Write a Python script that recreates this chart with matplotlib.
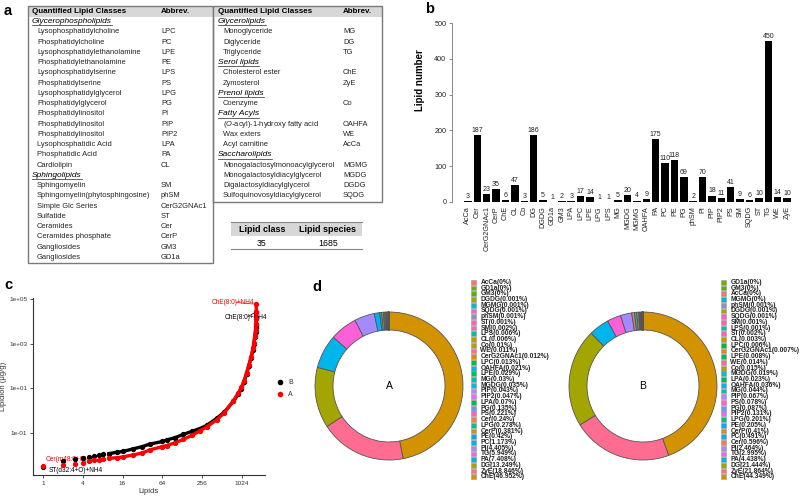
import matplotlib
matplotlib.use("Agg")
import matplotlib.pyplot as plt
from matplotlib.patches import Rectangle

plt.rcParams.update({
    "font.family": "Liberation Sans",
    "mathtext.fontset": "custom",
    "mathtext.rm": "Liberation Sans",
    "mathtext.it": "Liberation Sans:italic",
})

W, H = 803, 501

# ---------------- data ----------------
left_rows = [
    ("Glycerophospholipids", None),
    ("Lysophosphatidylcholine", "LPC"), ("Phosphatidylcholine", "PC"),
    ("Lysophosphatidylethanolamine", "LPE"), ("Phosphatidylethanolamine", "PE"),
    ("Lysophosphatidylserine", "LPS"), ("Phosphatidylserine", "PS"),
    ("Lysophosphatidylglycerol", "LPG"), ("Phosphatidylglycerol", "PG"),
    ("Phosphatidylinositol", "PI"), ("Phosphatidylinositol", "PIP"),
    ("Phosphatidylinositol", "PIP2"), ("Lysophosphatidic Acid", "LPA"),
    ("Phosphatidic Acid", "PA"), ("Cardiolipin", "CL"),
    ("Sphingolipids", None),
    ("Sphingomyelin", "SM"), ("Sphingomyelin(phytosphingosine)", "phSM"),
    ("Simple Glc Series", "CerG2GNAc1"), ("Sulfatide", "ST"),
    ("Ceramides", "Cer"), ("Ceramides phosphate", "CerP"),
    ("Gangliosides", "GM3"), ("Gangliosides", "GD1a"),
]
right_rows = [
    ("Glycerolipids", None),
    ("Monoglyceride", "MG"), ("Diglyceride", "DG"), ("Triglyceride", "TG"),
    ("Serol lipids", None),
    ("Cholesterol ester", "ChE"), ("Zymosterol", "ZyE"),
    ("Prenol lipids", None),
    ("Coenzyme", "Co"),
    ("Fatty Acyls", None),
    (r"($\it{O}$-acyl)-1-hydroxy fatty acid", "OAHFA"),
    ("Wax exters", "WE"), ("Acyl carnitine", "AcCa"),
    ("Saccharolipids", None),
    ("Monogalactosylmonoacylglycerol", "MGMG"),
    ("Monogalactosyldiacylglycerol", "MGDG"),
    ("Digalactosyldiacylglycerol", "DGDG"),
    ("Sulfoquinovosyldiacylglycerol", "SQDG"),
]
n_classes, n_species = 35, 1685

bar_names = ["AcCa", "Cer", "CerG2GNAc1", "CerP", "ChE", "CL", "Co", "DG", "DGDG",
             "GD1a", "GM3", "LPA", "LPC", "LPE", "LPG", "LPS", "MG", "MGDG", "MGMG",
             "OAHFA", "PA", "PC", "PE", "PG", "phSM", "PI", "PIP", "PIP2", "PS", "SM",
             "SQDG", "ST", "TG", "WE", "ZyE"]
bar_counts = [3, 187, 23, 35, 6, 47, 3, 186, 5, 1, 2, 3, 17, 14, 1, 1, 5, 20, 4, 9,
              175, 110, 118, 69, 2, 70, 18, 11, 41, 9, 6, 10, 450, 14, 10]

# rank-ordered lipid abundance (ug/g), read at selected ranks
rank_b = [1, 2, 3, 4, 5, 6, 7, 8, 10, 13, 16, 23, 32, 41, 64, 74, 100, 132, 180, 237,
          300, 424, 550, 757, 900, 1000, 1100, 1200, 1300, 1400, 1500, 1550, 1600,
          1640, 1670, 1680, 1683, 1684, 1685]
conc_b = [3.0e-3, 5.6e-3, 6.9e-3, 7.8e-3, 8.5e-3, 9.0e-3, 0.0105, 0.011, 0.012, 0.0138,
          0.015, 0.0195, 0.025, 0.032, 0.042, 0.049, 0.063, 0.087, 0.12, 0.16,
          0.22, 0.46, 0.85, 2.6, 5.5, 9.5, 20, 43, 100, 224, 525, 1000, 2000,
          3500, 5000, 6500, 8000, 1.6e4, 2.7e4]
rank_a = [1, 2, 3, 4, 5, 6, 7, 8, 10, 13, 16, 23, 32, 41, 64, 74, 100, 132, 180, 237,
          300, 424, 550, 757, 900, 1000, 1100, 1200, 1300, 1400, 1500, 1550, 1600,
          1640, 1670, 1680, 1684, 1685]
conc_a = [3.3e-3, 3.7e-3, 4.2e-3, 4.7e-3, 5.6e-3, 6.0e-3, 6.5e-3, 6.9e-3, 7.4e-3, 7.9e-3,
          8.5e-3, 0.0105, 0.013, 0.0174, 0.025, 0.0275, 0.037, 0.052, 0.08, 0.126,
          0.19, 0.39, 0.8, 2.75, 6.3, 11, 22, 50, 112, 250, 630, 1100, 2200,
          4000, 8000, 1.26e4, 2.5e4, 5.8e4]

pie_a_names = ["AcCa", "GD1a", "GM3", "DGDG", "MGMG", "SQDG", "phSM", "ST", "SM", "LPS",
               "CL", "Co", "WE", "CerG2GNAc1", "LPC", "OAHFA", "LPE", "MG", "MGDG", "PIP",
               "PIP2", "LPA", "PG", "PS", "Cer", "LPG", "CerP", "PE", "PC", "PI", "TG",
               "PA", "DG", "ZyE", "ChE"]
pie_a_pct = [0, 0, 0, 0.001, 0.001, 0.001, 0.001, 0.001, 0.002, 0.006, 0.006, 0.01,
             0.011, 0.012, 0.013, 0.021, 0.029, 0.03, 0.035, 0.043, 0.047, 0.07, 0.135,
             0.221, 0.24, 0.278, 0.381, 0.42, 1.173, 4.405, 5.949, 7.408, 13.249,
             18.846, 46.952]
pie_b_names = ["GD1a", "GM3", "AcCa", "MGMG", "phSM", "DGDG", "SQDG", "SM", "LPS", "ST",
               "CL", "LPC", "CerG2GNAc1", "LPE", "WE", "Co", "MGDG", "LPA", "OAHFA", "MG",
               "PIP", "PS", "PG", "PIP2", "LPG", "PE", "CerP", "PC", "Cer", "PI", "TG",
               "PA", "DG", "ZyE", "ChE"]
pie_b_pct = [0, 0, 0, 0, 0.001, 0.001, 0.001, 0.001, 0.001, 0.002, 0.003, 0.006, 0.007,
             0.008, 0.014, 0.015, 0.019, 0.023, 0.036, 0.044, 0.067, 0.078, 0.087,
             0.131, 0.201, 0.205, 0.41, 0.491, 0.596, 2.464, 2.995, 4.438, 21.444,
             21.864, 44.349]

class_colors = {
    "AcCa": "#F8766D", "GD1a": "#6BB100", "GM3": "#53B400", "DGDG": "#A3A500",
    "MGMG": "#00BFC4", "SQDG": "#FF61C3", "phSM": "#8E92B8", "ST": "#FF62BC",
    "SM": "#FF66A8", "LPS": "#00C1A3", "CL": "#C49A00", "Co": "#B79F00",
    "WE": "#FF6A98", "CerG2GNAc1": "#E58700", "LPC": "#00BA38", "OAHFA": "#00B4F0",
    "LPE": "#00BC56", "MG": "#00BFB0", "MGDG": "#00BCD8", "PIP": "#B385FF",
    "PIP2": "#E76BF3", "LPA": "#00B94A", "PG": "#619CFF", "PS": "#FF61C9",
    "Cer": "#F17D50", "LPG": "#00C08B", "CerP": "#DB8E00", "PE": "#00A9FF",
    "PC": "#00B0F6", "PI": "#A58AFF", "TG": "#FB61D7", "PA": "#00B5EC",
    "DG": "#A3A500", "ZyE": "#FF6C91", "ChE": "#D39200",
}

fig = plt.figure(figsize=(W / 100, H / 100), dpi=100)
cv = fig.add_axes([0, 0, 1, 1])
cv.set_xlim(0, W); cv.set_ylim(H, 0); cv.axis("off")
renderer = fig.canvas.get_renderer()

# panel letters
for lab, x, y in [("a", 4, 11), ("b", 425, 9), ("c", 4, 285), ("d", 312, 287)]:
    cv.text(x, y, lab, fontsize=10.5, fontweight="bold", va="center", ha="left")


# ---------------- panel a: tables ----------------
def draw_table(x0, x1, rows, name_x, abbr_x):
    y_top, step = 6, 10.25
    y_bot = y_top + step * (len(rows) + 1) + 1
    cv.add_patch(Rectangle((x0, y_top), x1 - x0, 10.5, facecolor="#d7d7d7", edgecolor="none"))
    cv.add_patch(Rectangle((x0, y_top), x1 - x0, y_bot - y_top, facecolor="none",
                           edgecolor="#7a7a7a", lw=1.0))
    cv.text(name_x, y_top + 5.3, "Quantified Lipid Classes", fontsize=5.8,
            fontweight="bold", va="center")
    cv.text(abbr_x, y_top + 5.3, "Abbrev.", fontsize=5.8, fontweight="bold", va="center")
    for i, (name, abbr) in enumerate(rows):
        y = y_top + 5.3 + step * (i + 1)
        if abbr is None:
            t = cv.text(name_x, y, name, fontsize=6.0, style="italic", va="center")
            bb = t.get_window_extent(renderer)
            yl = H - bb.y0 + 0.2
            cv.plot([bb.x0, bb.x1], [yl, yl], color="#222", lw=0.5)
        else:
            cv.text(name_x + 5, y, name, fontsize=5.4, va="center", color="#222")
            cv.text(abbr_x, y, abbr, fontsize=5.4, va="center", color="#222")


draw_table(28, 213, left_rows, 32, 161)
draw_table(213, 382, right_rows, 218, 343)

cv.add_patch(Rectangle((231, 222), 131, 14, facecolor="#d7d7d7", edgecolor="none"))
cv.plot([231, 362], [222, 222], color="#888", lw=0.8)
cv.plot([231, 362], [249, 249], color="#888", lw=0.8)
cv.text(262, 229, "Lipid class", fontsize=6.5, fontweight="bold", ha="center", va="center")
cv.text(328, 229, "Lipid species", fontsize=6.5, fontweight="bold", ha="center", va="center")
cv.text(262, 243, str(n_classes), fontsize=6.3, ha="center", va="center")
cv.text(328, 243, str(n_species), fontsize=6.3, ha="center", va="center")

# ---------------- panel b: bar chart ----------------
axb = fig.add_axes([452 / W, (H - 202) / H, 343 / W, 179 / H])
xs = list(range(len(bar_names)))
axb.bar(xs, bar_counts, width=0.8, color="black")
for x, v in zip(xs, bar_counts):
    axb.text(x, v + 3, str(v), ha="center", va="bottom", fontsize=5, color="#222")
axb.set_xlim(-1.7, 34.85)
axb.set_ylim(0, 500)
axb.set_yticks([0, 100, 200, 300, 400, 500])
axb.set_xticks(xs)
axb.set_xticklabels(bar_names, rotation=90, fontsize=5.2, color="#222")
axb.tick_params(axis="x", length=0, pad=3)
axb.tick_params(axis="y", labelsize=5.2, length=2.5, width=0.6, color="#777",
                labelcolor="#222", pad=1.5)
for s in ["top", "right", "bottom"]:
    axb.spines[s].set_visible(False)
axb.spines["left"].set_color("#888")
axb.spines["left"].set_linewidth(0.7)
axb.spines["left"].set_bounds(0, 500)
axb.set_ylabel("Lipid number", fontsize=7, fontweight="bold")
axb.yaxis.set_label_coords(-0.078, 0.68)
axb.patch.set_alpha(0)

# ---------------- panel c: rank plot ----------------
axc = fig.add_axes([33 / W, (H - 475) / H, 232 / W, 177 / H])
axc.set_xscale("log", base=2)
axc.set_yscale("log")
axc.plot(rank_b[8:], conc_b[8:], color="black", lw=2.4, zorder=4)
axc.plot(rank_b, conc_b, "o", color="black", ms=2.8, zorder=4)
axc.plot(rank_a[8:], conc_a[8:], color="red", lw=2.4, zorder=5)
axc.plot(rank_a, conc_a, "o", color="red", ms=2.8, zorder=5)
axc.set_xlim(0.706, 2282)
axc.set_ylim(1.33e-3, 1.11e5)
axc.set_xticks([1, 4, 16, 64, 256, 1024])
axc.set_xticklabels(["1", "4", "16", "64", "256", "1024"])
axc.set_yticks([1e-1, 1e1, 1e3, 1e5])
axc.set_yticklabels(["1e-01", "1e+01", "1e+03", "1e+05"])
axc.minorticks_off()
axc.tick_params(labelsize=4.6, length=2.5, width=0.6, color="#333", labelcolor="#333", pad=1.5)
for s in ["top", "right"]:
    axc.spines[s].set_visible(False)
for s in ["left", "bottom"]:
    axc.spines[s].set_color("#333")
    axc.spines[s].set_linewidth(0.8)
axc.set_xlabel("Lipids", fontsize=5.5, color="#333", labelpad=2)
axc.set_ylabel("Lipidion (\u03bcg/g)", fontsize=5.5, color="#333", labelpad=2)
axc.patch.set_alpha(0)

ann = dict(textcoords="offset points", fontsize=4.7, va="center", zorder=3)
axc.annotate("ChE(8:0)+NH4", xy=(rank_a[-1], conc_a[-1]), xytext=(-1.5, 1.5), ha="right",
             color="red", arrowprops=dict(arrowstyle="-", color="red", lw=0.5), **ann)
axc.annotate("ChE(8:0)+NH4", xy=(rank_b[-1], conc_b[-1]), xytext=(-23, -4.5), ha="left",
             color="black", arrowprops=dict(arrowstyle="-", color="black", lw=0.5), **ann)
axc.annotate("Cer(m48:0+O)+H", xy=(rank_a[0], conc_a[0]), xytext=(2.2, 5), ha="left",
             color="red", arrowprops=dict(arrowstyle="-", color="red", lw=0.5), **ann)
axc.annotate("ST(d32:4+O)+NH4", xy=(rank_b[0], conc_b[0]), xytext=(4.3, -2.2), ha="left",
             color="black", arrowprops=dict(arrowstyle="-", color="black", lw=0.5), **ann)

cv.plot([280], [382], "o", color="black", ms=3)
cv.plot([280], [394], "o", color="red", ms=3)
cv.text(288, 382, "B", fontsize=5, va="center", color="#333")
cv.text(288, 394, "A", fontsize=5, va="center", color="#333")


# ---------------- panel d: donuts ----------------
def draw_donut(cx, cy, names, pcts, label, leg_x):
    ax = fig.add_axes([(cx - 80) / W, (H - cy - 80) / H, 160 / W, 160 / H])
    ax.pie(pcts[::-1], colors=[class_colors[n] for n in names[::-1]], startangle=90,
           counterclock=False, radius=74,
           wedgeprops=dict(width=18, edgecolor="#555555", linewidth=0.6))
    ax.set_xlim(-80, 80); ax.set_ylim(-80, 80)
    ax.text(0, 0, label, fontsize=7.5, ha="center", va="center")
    y0, dy = 282.3, 5.72
    for i, (n, p) in enumerate(zip(names, pcts)):
        y = y0 + dy * i
        cv.add_patch(Rectangle((leg_x, y - 2.4), 5, 4.8, facecolor=class_colors[n],
                               edgecolor="#999", lw=0.4))
        cv.text(leg_x + 9.5, y, f"{n}({p:g}%)", fontsize=4.8, fontweight="bold",
                va="center", color="#222")


draw_donut(389, 386, pie_a_names, pie_a_pct, "A", 471)
draw_donut(643, 386, pie_b_names, pie_b_pct, "B", 721)

fig.savefig("out.png", dpi=100)
